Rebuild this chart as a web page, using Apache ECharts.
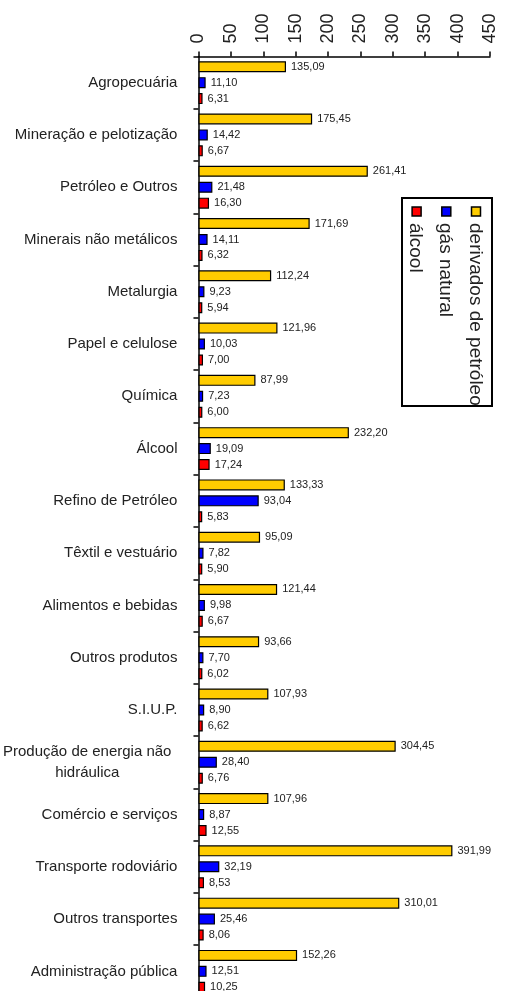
<!DOCTYPE html>
<html>
<head>
<meta charset="utf-8">
<script src="https://cdn.jsdelivr.net/npm/echarts@6/dist/echarts.min.js"></script>
<style>
html,body{margin:0;padding:0;background:#fff;overflow:hidden;}
#chart{width:508px;height:1010px;}
</style>
</head>
<body>
<div id="chart"></div>
<script>
var categories = ['Agropecuária','Mineração e pelotização','Petróleo e Outros','Minerais não metálicos','Metalurgia','Papel e celulose','Química','Álcool','Refino de Petróleo','Têxtil e vestuário','Alimentos e bebidas','Outros produtos','S.I.U.P.','Produção de energia não hidráulica','Comércio e serviços','Transporte rodoviário','Outros transportes','Administração pública'];
var derivados = [135.09,175.45,261.41,171.69,112.24,121.96,87.99,232.20,133.33,95.09,121.44,93.66,107.93,304.45,107.96,391.99,310.01,152.26];
var gasNatural = [11.10,14.42,21.48,14.11,9.23,10.03,7.23,19.09,93.04,7.82,9.98,7.70,8.90,28.40,8.87,32.19,25.46,12.51];
var alcool = [6.31,6.67,16.30,6.32,5.94,7.00,6.00,17.24,5.83,5.90,6.67,6.02,6.62,6.76,12.55,8.53,8.06,10.25];
var seriesNames = ['derivados de petróleo','gás natural','álcool'];
var seriesColors = ['#FFCC00','#0000FF','#FF0000'];

var FONT = '"Liberation Sans", Arial, Helvetica, sans-serif';
var chart = echarts.init(document.getElementById('chart'), null, {renderer:'canvas'});

function fmt(p){ return p.value.toFixed(2).replace('.', ','); }

function mkSeries(name, data, color){
  return {
    name: name, type: 'bar', data: data,
    barWidth: 11, barGap: '45%',
    itemStyle: {color: color, borderColor: '#000', borderWidth: 1.2},
    label: {show: true, position: 'right', distance: 5, formatter: fmt,
            fontFamily: FONT, fontSize: 11, color: '#222'}
  };
}

var legendRows = [];
for (var i = 0; i < seriesNames.length; i++) {
  var cy = 16 + i * 29.7;
  legendRows.push({type:'rect', shape:{x:9, y:cy-4.5, width:9, height:9},
    style:{fill:seriesColors[i], stroke:'#000', lineWidth:1.5}});
  legendRows.push({type:'text', x:25, y:cy + 1,
    style:{text:seriesNames[i], fontFamily:FONT, fontSize:19, fill:'#222',
           textAlign:'left', textVerticalAlign:'middle'}});
}

chart.setOption({
  animation: false,
  backgroundColor: '#fff',
  grid: {left: 196, top: 56.5, width: 294, height: 941, containLabel: false},
  xAxis: {
    type: 'value', position: 'top', min: 0, max: 450, interval: 50,
    axisLine: {show: true, lineStyle: {color: '#000', width: 1.5}},
    axisTick: {show: true, length: 5, lineStyle: {color: '#000', width: 1.5}},
    splitLine: {show: false},
    axisLabel: {rotate: -90, margin: 13, fontFamily: FONT, fontSize: 18, color: '#222'}
  },
  yAxis: {
    type: 'category', data: categories, inverse: true,
    axisLine: {show: true, lineStyle: {color: '#000', width: 1.5}},
    axisTick: {show: true, length: 5, lineStyle: {color: '#000', width: 1.5}},
    axisLabel: {margin: 21, fontFamily: FONT, fontSize: 15, color: '#222',
      formatter: function(v){
        if (v === 'Produção de energia não hidráulica') {
          return '{c|Produção de energia não}\n{c|hidráulica}';
        }
        return v;
      },
      rich: {c: {align: 'center', fontFamily: FONT, fontSize: 15, color: '#222', lineHeight: 21, padding: [0, 6, 0, 0]}}
    }
  },
  series: [
    mkSeries(seriesNames[0], derivados, seriesColors[0]),
    mkSeries(seriesNames[1], gasNatural, seriesColors[1]),
    mkSeries(seriesNames[2], alcool, seriesColors[2])
  ],
  graphic: [{
    type: 'group', x: 492, y: 198, rotation: -Math.PI / 2,
    children: [{type:'rect', shape:{x:0, y:0, width:208, height:90},
      style:{fill:'#fff', stroke:'#000', lineWidth:2}}].concat(legendRows)
  }]
});
</script>
</body>
</html>
